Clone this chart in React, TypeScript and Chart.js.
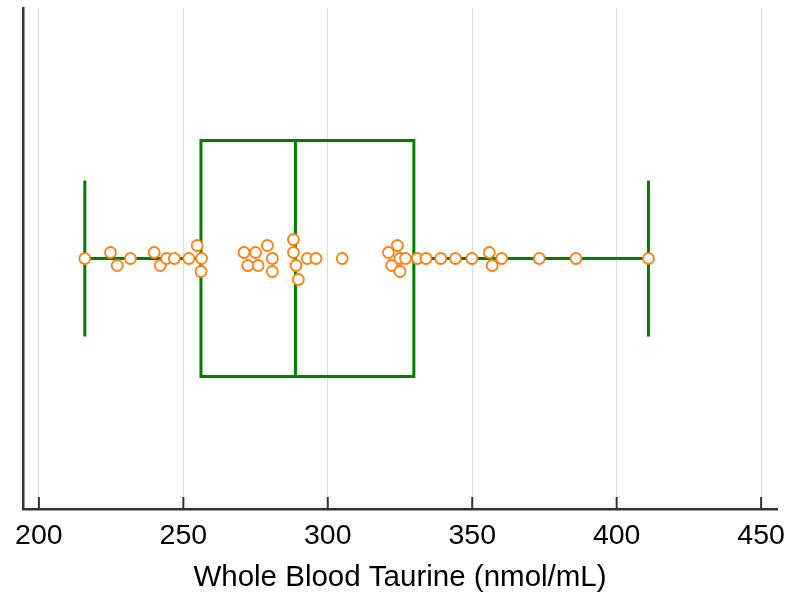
import { useEffect, useRef } from "react";
import { Chart, registerables } from "chart.js";

Chart.register(...registerables);

// Whole blood taurine values (nmol/mL)
const values = [
  215.9, 224.8, 227.1, 231.7, 239.9, 242.0, 244.2, 246.9, 251.9, 254.8, 256.3, 256.1,
  271.0, 275.0, 279.1, 272.3, 275.9, 280.8, 280.8, 288.1, 288.1, 289.0, 289.8, 292.9,
  295.9, 305.0, 321.0, 324.1, 322.1, 325.0, 326.9, 325.0, 331.0, 334.0, 339.1, 344.2,
  349.9, 355.9, 356.9, 360.2, 373.2, 385.9, 411.0,
];
// vertical swarm offsets of each point
const jitter = [
  0, -6, 7, 0, -6, 7, 0, 0, 0, -13, 0, 13,
  -6, -6, -13, 7, 7, 0, 13, -19, -6, 7, 21, 0,
  0, 0, -6, -13, 7, 0, 0, 13, 0, 0, 0, 0,
  0, -6, 7, 0, 0, 0, 0,
];
// min, q1, median, q3, max
const boxStats = [215.9, 256.1, 288.8, 329.8, 411.0];
const xTicks = [200, 250, 300, 350, 400, 450];
const xTitle = "Whole Blood Taurine (nmol/mL)";

const GREEN = "#008000";
const ORANGE = "#ff7f0e";
const BOX_HALF = 118;
const CAP_HALF = 78;
const FONT = "'Liberation Sans', Arial, sans-serif";

const boxPlugin = {
  id: "boxPlugin",
  beforeDatasetsDraw(chart: any) {
    const { ctx, scales } = chart;
    const x = scales.x;
    const y = scales.y;
    const [mn, q1, med, q3, mx] = boxStats.map((v) => x.getPixelForValue(v));
    const yc = y.getPixelForValue(0);
    const yt = y.getPixelForValue(-BOX_HALF);
    const yb = y.getPixelForValue(BOX_HALF);
    const ct = y.getPixelForValue(-CAP_HALF);
    const cb = y.getPixelForValue(CAP_HALF);
    ctx.save();
    ctx.strokeStyle = GREEN;
    ctx.lineWidth = 3;
    ctx.beginPath();
    ctx.rect(q1, yt, q3 - q1, yb - yt);
    ctx.moveTo(med, yt);
    ctx.lineTo(med, yb);
    ctx.moveTo(mn, yc);
    ctx.lineTo(q1, yc);
    ctx.moveTo(q3, yc);
    ctx.lineTo(mx, yc);
    ctx.moveTo(mn, ct);
    ctx.lineTo(mn, cb);
    ctx.moveTo(mx, ct);
    ctx.lineTo(mx, cb);
    ctx.stroke();
    ctx.restore();
  },
  afterDraw(chart: any) {
    const { ctx, scales, chartArea } = chart;
    const x = scales.x;
    ctx.save();
    ctx.strokeStyle = "#333333";
    ctx.lineWidth = 2;
    ctx.beginPath();
    x.ticks.forEach((t: any) => {
      const px = x.getPixelForValue(t.value);
      ctx.moveTo(px, chartArea.bottom);
      ctx.lineTo(px, chartArea.bottom - 12);
    });
    ctx.stroke();
    ctx.restore();
  },
};

export default function App() {
  const ref = useRef<HTMLCanvasElement | null>(null);
  useEffect(() => {
    document.body.style.margin = "0";
    if (!ref.current) return;
    const chart = new Chart(ref.current, {
      type: "scatter",
      data: {
        datasets: [
          {
            data: values.map((v, i) => ({ x: v, y: jitter[i] })),
            backgroundColor: "#ffffff",
            borderColor: ORANGE,
            borderWidth: 1.8,
            pointRadius: 5.5,
          },
        ],
      },
      options: {
        animation: false,
        responsive: false,
        layout: { padding: { left: 23, right: 9, top: 8, bottom: 0 } },
        plugins: { legend: { display: false }, tooltip: { enabled: false } },
        scales: {
          x: {
            type: "linear",
            min: 194.5,
            max: 455.5,
            afterBuildTicks: (axis: any) => {
              axis.ticks = xTicks.map((v) => ({ value: v }));
            },
            afterFit: (axis: any) => {
              axis.paddingLeft = 0;
              axis.paddingRight = 0;
            },
            grid: { color: "#dddddd", lineWidth: 1, drawTicks: false },
            border: { display: true, color: "#333333", width: 2.5 },
            ticks: {
              padding: 13,
              color: "#000000",
              font: { family: FONT, size: 28.5, lineHeight: 1 },
            },
            title: {
              display: true,
              text: xTitle,
              color: "#000000",
              padding: { top: 0, bottom: 1 },
              font: { family: FONT, size: 29.5, lineHeight: 1 },
            },
          },
          y: {
            type: "linear",
            min: -250.5,
            max: 250.5,
            reverse: true,
            grid: { display: false, drawTicks: false },
            border: { display: true, color: "#333333", width: 2.5 },
            ticks: { display: false },
          },
        },
      },
      plugins: [boxPlugin],
    });
    return () => chart.destroy();
  }, []);
  return (
    <div style={{ width: 786, height: 594 }}>
      <canvas ref={ref} width={786} height={594} style={{ display: "block" }} />
    </div>
  );
}
